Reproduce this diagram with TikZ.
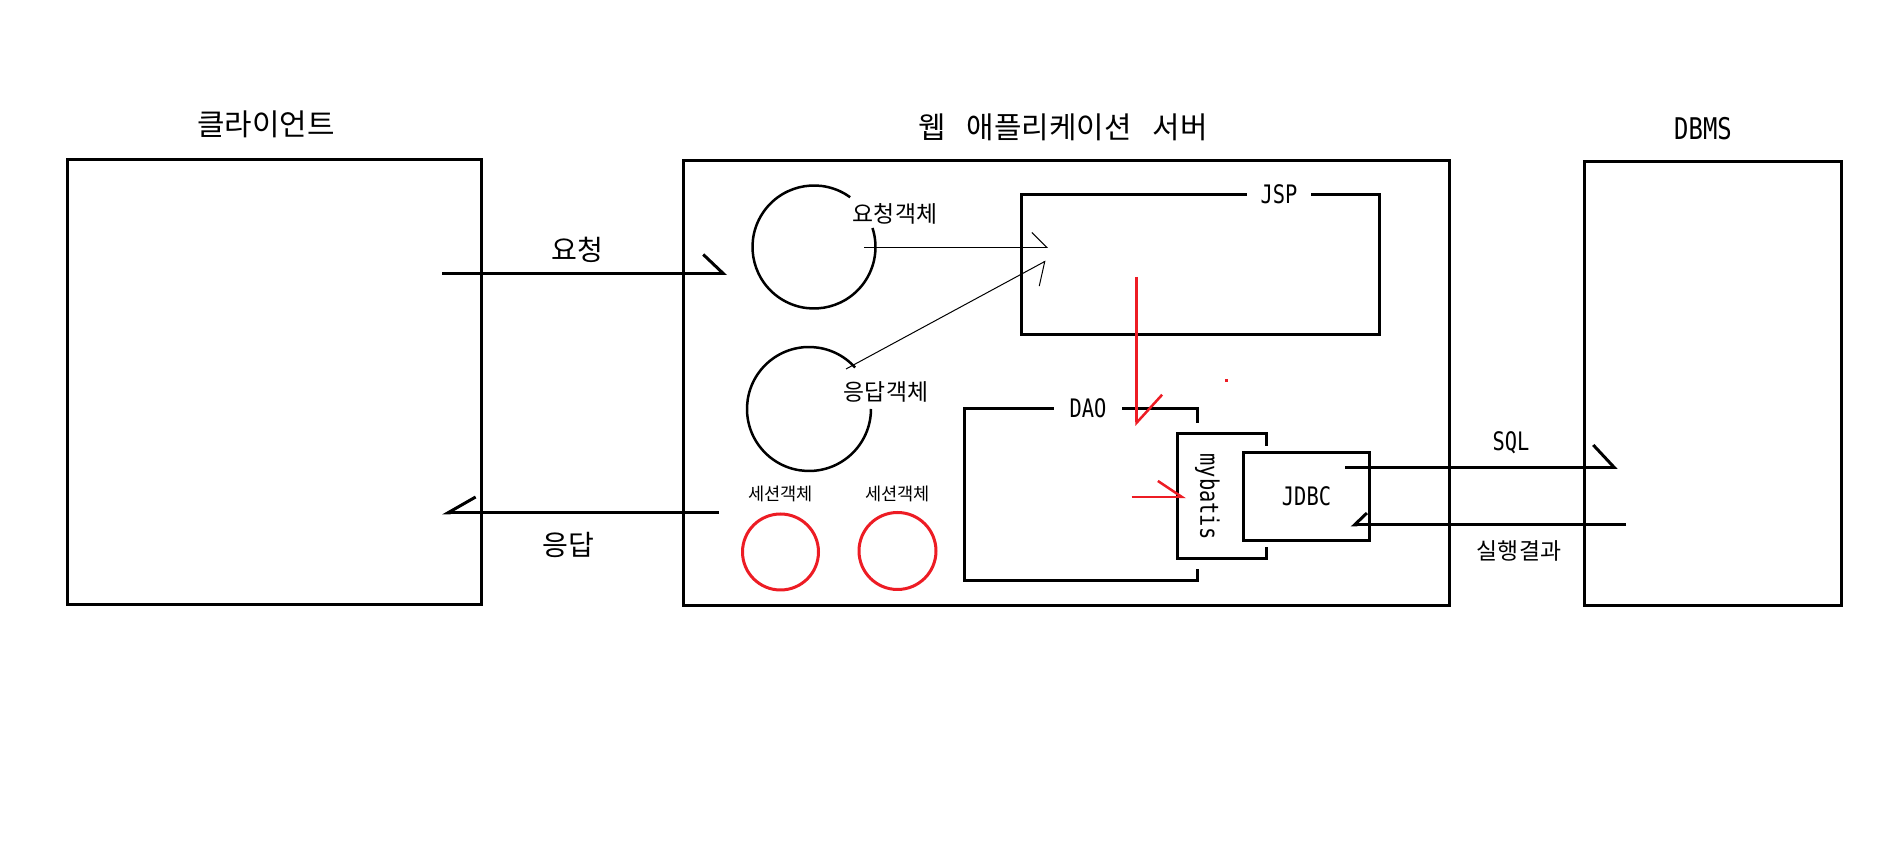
\documentclass[tikz,border=0pt]{standalone}
\usepackage{fontspec}
\setmainfont{Noto Sans CJK KR}
\newfontfamily\latinmono[FakeStretch=0.8]{DejaVu Sans Mono}
\usetikzlibrary{arrows.meta,positioning}
\definecolor{paintred}{RGB}{237,28,36}

\begin{document}
\begin{tikzpicture}[x=0.02cm, y=0.02cm,
    blockbox/.style={draw, line width=0.06cm, inner sep=0pt, outer sep=0pt},
    cover/.style={blockbox, fill=white, preaction={draw=white, line width=#1}},
    boxtitle/.style={font=\fontsize{17}{20}\selectfont},
    flowlabel/.style={font=\fontsize{16}{19}\selectfont},
    hangul/.style={font=\fontsize{13}{16}\selectfont, inner sep=1pt},
    latinlabel/.style={font=\latinmono\fontsize{14.5}{17}\selectfont, inner sep=1pt},
    objline/.style={line width=0.05cm},
    session/.style={draw=paintred, circle, line width=0.06cm, inner sep=0pt},
    flow/.style={line width=0.06cm},
    thinflow/.style={line width=0.02cm},
    redflow/.style={draw=paintred, line width=0.05cm},
    halfbarb/.style 2 args={-{Straight Barb[harpoon, length=#1, width=#2]}},
    halfbarbswap/.style 2 args={-{Straight Barb[harpoon, swap, length=#1, width=#2]}}]
    \path[use as bounding box, fill=white] (0,0) rectangle (1898,868);

    % three tiers
    \node[blockbox, minimum width=8.3cm, minimum height=8.92cm] (client) at (274.5,486) {};
    \node[blockbox, minimum width=15.34cm, minimum height=8.91cm] (was) at (1066.5,485) {};
    \node[blockbox, minimum width=5.13cm, minimum height=8.9cm] (dbms) at (1713,484.5) {};
    \node[boxtitle] (clientname) at (266,744) {클라이언트};
    \node[boxtitle] (wasname) at (1063,741) {웹\hspace{0.7em}애플리케이션\hspace{0.7em}서버};
    \node[latinlabel, font=\latinmono\fontsize{17}{20}\selectfont] (dbmsname) at (1703,739) {DBMS};

    % request / response objects
    \node[circle, minimum size=2.46cm, inner sep=0pt, outer sep=0pt] (reqobj) at (814,621) {};
    \node[circle, minimum size=2.48cm, inner sep=0pt, outer sep=0pt] (resobj) at (809,459) {};
    \draw[objline] (reqobj.54) arc[start angle=54, end angle=378, radius=1.23cm];
    \draw[objline] (resobj.42) arc[start angle=42, end angle=360, radius=1.24cm];
    \node[hangul] (reqname) at (895,654) {요청객체};
    \node[hangul] (resname) at (886,476) {응답객체};
    \node[session, minimum size=1.52cm] (sess1) at (780.5,316) {};
    \node[session, minimum size=1.54cm] (sess2) at (897.5,317) {};
    \node[hangul, font=\fontsize{10}{12}\selectfont, above=0.18cm of sess1] (sessname1) {세션객체};
    \node[hangul, font=\fontsize{10}{12}\selectfont, above=0.14cm of sess2] (sessname2) {세션객체};

    % JSP, DAO, mybatis, JDBC
    \node[blockbox, minimum width=7.18cm, minimum height=2.82cm] (jsp) at (1200.5,603.5) {};
    \node[latinlabel, fill=white, inner xsep=0.28cm] (jspname) at (1279,674) {JSP};
    \node[blockbox, minimum width=4.66cm, minimum height=3.46cm] (dao) at (1081,373.5) {};
    \node[latinlabel, fill=white, inner xsep=0.32cm] (daoname) at (1088,460) {DAO};
    \node[cover=0.42cm, minimum width=1.77cm, minimum height=2.52cm] (mybatis) at (1221.75,372) {};
    \node[latinlabel, rotate=-90] (mybatisname) at (1207.5,371.5) {mybatis};
    \node[cover=0.26cm, font=\latinmono\fontsize{14.5}{17}\selectfont, minimum width=2.54cm, minimum height=1.774cm] (jdbc) at (1306.5,371.6) {JDBC};

    % connector ends
    \coordinate (reqfrom) at (442,594.5);
    \coordinate (reqto) at (727,594.5);
    \coordinate (resfrom) at (719,355);
    \coordinate (resto) at (442,355);
    \coordinate (sqlfrom) at (1345,400.5);
    \coordinate (sqlto) at (1617.7,400.5);
    \coordinate (resultfrom) at (1626,343);
    \coordinate (resultto) at (1350.7,343);
    \coordinate (reqtail) at (864,620.5);
    \coordinate (reqhead) at (1048,620.5);
    \coordinate (restail) at (846,499);
    \coordinate (reshead) at (1045.7,607);
    \coordinate (jspout) at (1136.6,591);
    \coordinate (daoin) at (1136.6,442);
    \coordinate (daoout) at (1131.7,371);
    \coordinate (mybatisin) at (1186,371);

    \draw[flow, halfbarb={0.4cm}{0.76cm}] (reqfrom) -- (reqto);
    \draw[flow, halfbarbswap={0.56cm}{0.64cm}] (resfrom) -- (resto);
    \draw[flow, halfbarb={0.42cm}{0.9cm}] (sqlfrom) -- (sqlto);
    \draw[flow, halfbarbswap={0.25cm}{0.48cm}] (resultfrom) -- (resultto);
    \draw[thinflow, halfbarb={0.3cm}{0.6cm}] (reqtail) -- (reqhead);
    \draw[thinflow, halfbarbswap={0.33cm}{0.76cm}] (restail) -- (reshead);
    \draw[redflow, halfbarb={0.56cm}{1.02cm}] (jspout) -- (daoin);
    \draw[redflow, halfbarb={0.48cm}{0.64cm}] (daoout) -- (mybatisin);
    \fill[paintred] (1224.5,485.8) rectangle ++(3,3);

    \node[flowlabel] (reqlabel) at (577,618) {요청};
    \node[flowlabel] (reslabel) at (568,323) {응답};
    \node[latinlabel] (sqllabel) at (1511,425) {SQL};
    \node[hangul] (resultlabel) at (1519,317) {실행결과};
\end{tikzpicture}
\end{document}
